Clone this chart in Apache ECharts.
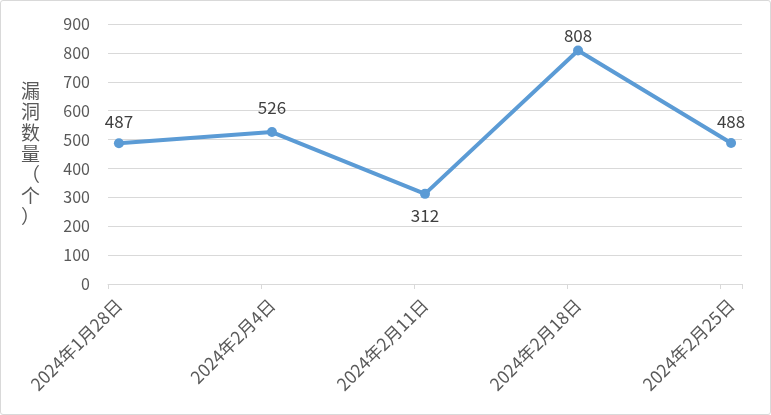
<!DOCTYPE html>
<html><head><meta charset="utf-8">
<script src="https://cdn.jsdelivr.net/npm/echarts@6/dist/echarts.min.js"></script>
<style>
html,body{margin:0;padding:0;background:#fff;}
#wrap{position:absolute;left:0;top:0;width:769px;height:413px;border:1px solid #D9D9D9;border-radius:3px;}
#c{width:771px;height:415px;position:absolute;left:0;top:0;}
</style></head>
<body><div id="wrap"></div><div id="c"></div>
<script>
const dates = ['2024-01-28','2024-02-04','2024-02-11','2024-02-18','2024-02-25'];
const values = [487, 526, 312, 808, 488];
const labelPos = ['top','top','bottom','top','top'];
const yTicks = [0,100,200,300,400,500,600,700,800,900];
const yName = '漏洞数量（个）';

function fmt(d){ return d.getFullYear()+'年'+(d.getMonth()+1)+'月'+d.getDate()+'日'; }
function parse(s){ const p=s.split('-').map(Number); return new Date(p[0],p[1]-1,p[2]); }
// daily category axis (Excel date axis), spanning first to last date
const days = [];
for (let d=parse(dates[0]); d<=parse(dates[dates.length-1]); d=new Date(d.getFullYear(),d.getMonth(),d.getDate()+1)) days.push(fmt(d));
const labelDist = [8, 11, 8, 2, 8];
const seriesData = dates.map((s,i)=>({value:[fmt(parse(s)), values[i]], label:{position:labelPos[i], distance:labelDist[i]}}));
const shown = new Set(dates.map(s=>fmt(parse(s))));

const chart = echarts.init(document.getElementById('c'));
const font = "'Microsoft YaHei','Noto Sans CJK SC',sans-serif";
chart.setOption({
  animation:false,
  grid:{left:108,right:29,top:24,bottom:131},
  xAxis:{
    type:'category', data:days, boundaryGap:true,
    axisLine:{lineStyle:{color:'#D9D9D9',width:1}},
    axisTick:{show:true,interval:6,length:5,lineStyle:{color:'#D9D9D9'}},
    axisLabel:{interval:(i,v)=>shown.has(v), rotate:45, margin:18, color:'#595959', fontSize:17.5, fontFamily:font},
    splitLine:{show:false}
  },
  yAxis:{
    type:'value', min:yTicks[0], max:yTicks[yTicks.length-1], interval:100,
    name: yName.split('').join('\n'), nameLocation:'middle', nameRotate:0, nameGap:68,
    nameTextStyle:{color:'#595959',fontSize:19,fontFamily:font,lineHeight:21},
    axisLine:{show:false}, axisTick:{show:false},
    axisLabel:{color:'#595959',fontSize:16,margin:18,fontFamily:font},
    splitLine:{lineStyle:{color:'#D9D9D9',width:1}}
  },
  series:[{
    type:'line', data:seriesData,
    symbol:'circle', symbolSize:10,
    lineStyle:{color:'#5B9BD5',width:4},
    itemStyle:{color:'#5B9BD5'},
    label:{show:true,color:'#404040',fontSize:17,fontFamily:font,distance:8}
  }]
});
</script></body></html>
